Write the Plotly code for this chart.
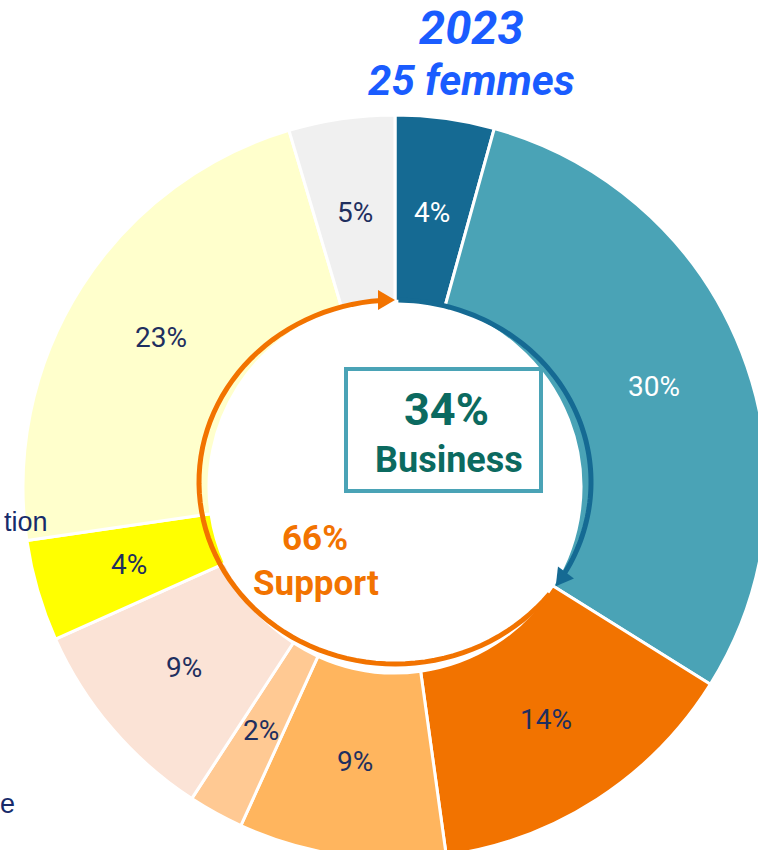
import numpy as np
import plotly.graph_objects as go

# shares of the 25 women (%), clockwise from 12 o'clock
parts = ["A", "B", "C", "D", "E", "F", "G", "H", "I"]
share = [4.3, 29.6, 13.9, 9.0, 2.4, 9.1, 4.4, 22.7, 4.6]
colors = ["#156a93", "#4aa3b6", "#f27300", "#ffb55e", "#ffc993",
          "#fbe3d6", "#ffff00", "#ffffcc", "#f0f0f0"]
text_colors = ["white", "white", "#1f2f5f", "#1f2f5f", "#1f2f5f",
               "#1f2f5f", "#1f2f5f", "#1f2f5f", "#1f2f5f"]
business = 34
support = 66

W, H = 800, 900
CX, CY, R = 395, 487, 372   # pie centre and radius, pixels
HOLE = 0.5


def px(x):
    return x / W


def py(y):
    return 1 - y / H


dom_x = [px(CX - R), px(CX + R)]
dom_y = [py(CY + R), py(CY - R)]

fig = go.Figure(go.Pie(
    labels=parts,
    values=share,
    textinfo="none",
    sort=False,
    direction="clockwise",
    hole=HOLE,
    marker=dict(colors=colors, line=dict(color="white", width=3)),
    domain=dict(x=dom_x, y=dom_y),
    showlegend=False,
))

# percentage labels, mid-angle of each slice, middle of the ring
cum = np.cumsum([0] + share[:-1])
r_lab = 370 * (1 + HOLE) / 2
for v, c0, tc in zip(share, cum, text_colors):
    a = np.radians((c0 + v / 2) / sum(share) * 360)
    fig.add_annotation(text=f"{round(v)}%", x=px(CX + r_lab * np.sin(a)),
                       y=py(CY - r_lab * np.cos(a)),
                       xref="paper", yref="paper", showarrow=False,
                       xanchor="center", yanchor="middle",
                       font=dict(family="Roboto", size=28, color=tc))


# arrows around the hole (slightly oval, as in the original)
acx, acy, rx, ry = 395, 482, 196, 182


def pt(t):
    t = np.radians(t)
    return acx + rx * np.sin(t), acy - ry * np.cos(t)


def arc_path(t0, t1):
    ts = np.linspace(t0, t1, 80)
    pts = [pt(t) for t in ts]
    return "M" + " L".join(f"{px(x):.5f},{py(y):.5f}" for x, y in pts)


def head_path(t, length=17, half=10):
    x, y = pt(t)
    tr = np.radians(t)
    dx, dy = rx * np.cos(tr), ry * np.sin(tr)
    n = np.hypot(dx, dy)
    dx, dy = dx / n, dy / n
    bx, by = x - dx * length, y - dy * length
    p1 = (bx - dy * half, by + dx * half)
    p2 = (bx + dy * half, by - dx * half)
    return (f"M{px(x):.5f},{py(y):.5f} L{px(p1[0]):.5f},{py(p1[1]):.5f} "
            f"L{px(p2[0]):.5f},{py(p2[1]):.5f} Z")


b_end = business / 100 * 360 + 2.5
shapes = [
    dict(type="path", path=arc_path(1, b_end - 4), xref="paper", yref="paper",
         line=dict(color="#156a93", width=5), layer="above"),
    dict(type="path", path=head_path(b_end), xref="paper", yref="paper",
         line=dict(width=0), fillcolor="#156a93", layer="above"),
    dict(type="path", path=arc_path(b_end + 3, 356), xref="paper", yref="paper",
         line=dict(color="#f27300", width=5), layer="above"),
    dict(type="path", path=head_path(360), xref="paper", yref="paper",
         line=dict(width=0), fillcolor="#f27300", layer="above"),
    dict(type="rect", xref="paper", yref="paper",
         x0=px(346), x1=px(541), y0=py(369), y1=py(491),
         line=dict(color="#4aa3b6", width=4), fillcolor="white", layer="above"),
]

fig.update_layout(
    width=W, height=H,
    margin=dict(l=0, r=0, t=0, b=0),
    paper_bgcolor="white",
    font=dict(family="Roboto"),
    shapes=shapes,
)

ann = [
    ("<b><i>2023</i></b>", 471, 28, 47, "#1a5cff"),
    ("<b><i>25 femmes</i></b>", 471, 80, 42, "#1a5cff"),
    (f"<b>{business}%</b>", 446, 409, 45, "#0b6a60"),
    ("<b>Business</b>", 449, 460, 36, "#0b6a60"),
    (f"<b>{support}%</b>", 315, 538, 35, "#f27300"),
    ("<b>Support</b>", 316, 583, 35, "#f27300"),
]
for txt, x, y, s, c in ann:
    fig.add_annotation(text=txt, x=px(x), y=py(y), xref="paper", yref="paper",
                       showarrow=False, xanchor="center", yanchor="middle",
                       font=dict(size=s, color=c, family="Roboto"))

fig.add_annotation(text="tion", x=px(50), y=py(522), xref="paper", yref="paper",
                   showarrow=False, xanchor="right", yanchor="middle",
                   font=dict(size=27, color="#172b6b", family="Liberation Sans"))
fig.add_annotation(text="e", x=px(17), y=py(804), xref="paper", yref="paper",
                   showarrow=False, xanchor="right", yanchor="middle",
                   font=dict(size=27, color="#172b6b", family="Liberation Sans"))

fig.write_html("out.html", config={"displayModeBar": False},
               post_script="document.body.style.margin='0';document.body.style.overflow='hidden';")
